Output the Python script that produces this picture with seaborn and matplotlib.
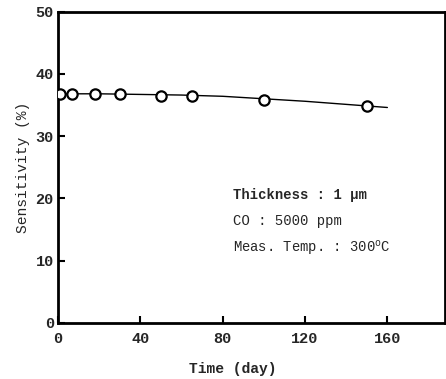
import matplotlib
matplotlib.use("Agg")
import matplotlib.pyplot as plt
import seaborn as sns
import pandas as pd

# measured points
days = [1, 7, 18, 30, 50, 65, 100, 150]
sensitivity = [36.7, 36.8, 36.7, 36.7, 36.5, 36.4, 35.8, 34.8]
# hand-drawn trend curve
curve_days = [0, 20, 40, 60, 80, 100, 120, 140, 160]
curve_vals = [36.8, 36.8, 36.7, 36.6, 36.4, 36.0, 35.6, 35.1, 34.6]

x_ticks = [0, 40, 80, 120, 160]
y_ticks = [0, 10, 20, 30, 40, 50]
notes = ["Thickness : 1 \u03bcm", "CO : 5000 ppm", "Meas. Temp. : 300$^\\mathrm{o}$C"]

sns.set_style("ticks")
plt.rcParams['font.family'] = ['Liberation Mono', 'DejaVu Sans Mono']
plt.rcParams['mathtext.fontset'] = 'custom'
plt.rcParams['mathtext.rm'] = 'Liberation Mono'

fig = plt.figure(figsize=(4.46, 3.79), dpi=100)
ax = fig.add_axes([58/446, 1 - 322.7/379, 387/446, (322.7 - 11.7)/379])

pts = pd.DataFrame({"day": days, "s": sensitivity})
cur = pd.DataFrame({"day": curve_days, "s": curve_vals})

sns.lineplot(data=cur, x="day", y="s", ax=ax, color="black", linewidth=1.0, zorder=2)
sns.scatterplot(data=pts, x="day", y="s", ax=ax, marker="o", s=55,
                facecolor="white", edgecolor="black", linewidth=1.6, zorder=3)

ax.set_xlim(0, 188)
ax.set_ylim(0, 50)
ax.set_xticks(x_ticks)
ax.set_yticks(y_ticks)
ax.tick_params(direction="in", length=5, width=1.5, labelsize=11, color="black")
ax.tick_params(axis="x", pad=7)
ax.tick_params(axis="y", pad=3)
for lab in ax.get_xticklabels() + ax.get_yticklabels():
    lab.set_fontweight("bold")

for sp in ax.spines.values():
    sp.set_visible(True)
    sp.set_linewidth(2.0)
    sp.set_color("black")

ax.set_xlabel("Time (day)", fontsize=10.5, fontweight="bold", labelpad=10)
ax.xaxis.set_label_coords(0.452, -0.125)
ax.set_ylabel("Sensitivity (%)", fontsize=10.5, labelpad=4)

ys = [20.5, 16.3, 12.0]
for t, y in zip(notes, ys):
    ax.text(85, y, t, fontsize=10, ha="left", va="center", fontweight="bold" if t.startswith("Th") else "normal")

fig.savefig("out.png", dpi=100)
